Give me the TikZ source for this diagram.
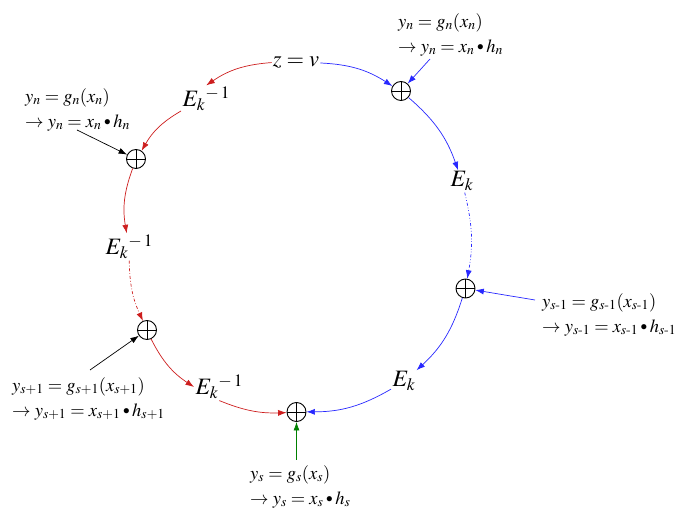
\documentclass[tikz,border=0pt]{standalone}
\usepackage{amsmath}
\usepackage{graphicx}
\usepackage{mathptmx}
\usetikzlibrary{arrows.meta}
\definecolor{lnblue}{RGB}{40,40,255}
\definecolor{lnred}{RGB}{205,30,30}
\definecolor{lngreen}{RGB}{0,128,0}
\newcommand\sdot{\mathbin{\vcenter{\hbox{\scalebox{0.72}{$\bullet$}}}}}
\tikzset{
 oplus/.style={circle,draw,line width=0.9pt,minimum size=19pt,inner sep=0pt,
   path picture={\draw[line width=0.9pt] (path picture bounding box.north)--(path picture bounding box.south)
     (path picture bounding box.west)--(path picture bounding box.east);}},
 ek/.style={inner sep=0pt,outer sep=1.5pt,anchor=base west,font=\fontsize{23.5}{27}\selectfont},
 eqlabel/.style={inner sep=0pt,anchor=north west,align=left,font=\fontsize{18.5}{25}\selectfont},
 arr/.style={-{Latex[length=8.5pt,width=6pt]},line width=0.7pt},
 bl/.style={arr,lnblue},
 rd/.style={arr,lnred},
}
\begin{document}
\begin{tikzpicture}[x=1pt,y=1pt]
\useasboundingbox (0,0) rectangle (683,509);
% centre text
\node[font=\fontsize{22.5}{26}\selectfont,inner sep=1pt] (zv) at (296,446) {$z=v$};
% xor nodes
\node[oplus] (p1) at (401,418) {};
\node[oplus] (p2) at (136,350) {};
\node[oplus] (p3) at (465.5,220.5) {};
\node[oplus] (p4) at (147,179) {};
\node[oplus] (p5) at (296.5,97) {};
% E nodes
\node[ek] (ei1) at (181,402) {${E_k}^{-\,1}$};
\node[ek] (ei2) at (104,254) {${E_k}^{-\,1}$};
\node[ek] (ei3) at (194,114) {${E_k}^{-\,1}$};
\node[ek] (e1) at (449,322) {$E_k$};
\node[ek] (e2) at (391,122) {$E_k$};
% labels
\node[eqlabel] (l1) at (398,496) {$y_n = g_n(x_n)$\\$\rightarrow y_n = x_n\sdot h_n$};
\node[eqlabel] (l2) at (25,421) {$y_n = g_n(x_n)$\\$\rightarrow y_n = x_n\sdot h_n$};
\node[eqlabel] (l3) at (542,216) {$y_{s\text{-}1} = g_{s\text{-}1}(x_{s\text{-}1})$\\$\rightarrow y_{s\text{-}1} = x_{s\text{-}1}\sdot h_{s\text{-}1}$};
\node[eqlabel] (l4) at (12,132) {$y_{s{+}1} = g_{s{+}1}(x_{s{+}1})$\\$\rightarrow y_{s{+}1} = x_{s{+}1}\sdot h_{s{+}1}$};
\node[eqlabel] (l5) at (250,44) {$y_s = g_s(x_s)$\\$\rightarrow y_s = x_s\sdot h_s$};
% input starts
\coordinate (i1) at (430,450);
\coordinate (i2) at (77,379);
\coordinate (i3) at (535,209);
\coordinate (i4) at (90,139);
\coordinate (i5) at (296.5,49);
% blue path (clockwise)
\draw[bl] (zv) to[bend left=15] (p1);
\draw[bl] (p1) to[bend left=15] (e1);
\draw[bl,dash dot dot] (e1) to[bend left=12] (p3);
\draw[bl] (p3) to[bend left=15] (e2);
\draw[bl] (e2) to[bend left=15] (p5);
% red path (counter-clockwise)
\draw[rd] (zv) to[bend right=15] (ei1.north);
\draw[rd] (ei1) to[bend right=15] (p2);
\draw[rd] (p2) to[bend right=15] (ei2);
\draw[rd,dash dot] (ei2) to[bend right=12] (p4);
\draw[rd] (p4) to[bend right=15] (ei3.west);
\draw[rd] (ei3.south) to[bend right=12] (p5);
% inputs
\draw[bl] (i1) -- (p1);
\draw[arr,black] (i2) -- (p2);
\draw[bl] (i3) -- (p3);
\draw[arr,black] (i4) -- (p4);
\draw[arr,lngreen] (i5) -- (p5);
\end{tikzpicture}
\end{document}
